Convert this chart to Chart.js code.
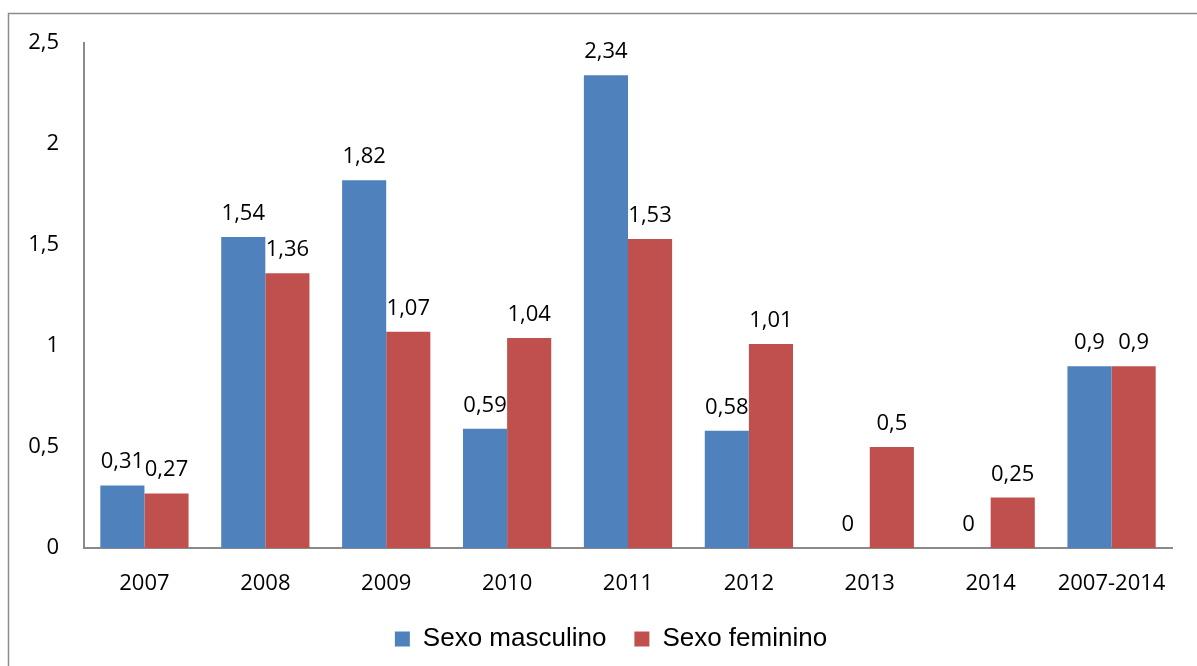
<!DOCTYPE html>
<html>
<head>
<meta charset="utf-8">
<script src="https://cdn.jsdelivr.net/npm/chart.js@4"></script>
<style>
  html, body { margin: 0; padding: 0; background: #fff; }
  #wrap { width: 1197px; height: 666px; position: relative; }
</style>
</head>
<body>
<div id="wrap"><canvas id="grafico"></canvas></div>
<script>
///// dados do gráfico
let anos = ["2007", "2008", "2009", "2010", "2011", "2012", "2013", "2014", "2007-2014"];
let masculino = [0.31, 1.54, 1.82, 0.59, 2.34, 0.58, 0, 0, 0.9];
let feminino = [0.27, 1.36, 1.07, 1.04, 1.53, 1.01, 0.5, 0.25, 0.9];
let nomesSeries = ["Sexo masculino", "Sexo feminino"];
let ticksY = [0, 0.5, 1, 1.5, 2, 2.5];

let fonteNum = "'Open Sans', sans-serif";

///// virgula decimal
function virgula(v) {
    return String(v).replace(".", ",");
}

///// moldura cinza e valores por cima das barras
let moldura = {
    id: "moldura",
    beforeDraw(chart) {
        let ctx = chart.ctx;
        ctx.save();
        ctx.fillStyle = "#fff";
        ctx.fillRect(0, 0, chart.width, chart.height);
        ctx.strokeStyle = "#8c8c8c";
        ctx.lineWidth = 1.5;
        ctx.strokeRect(8.5, 13.5, 3000, 3000);
        ctx.restore();
    },
    afterLayout(chart) {
        // legenda um pouco à direita, como no original
        chart.legend.left += 20;
        chart.legend.right += 20;
    }
};

let rotulos = {
    id: "rotulos",
    afterDatasetsDraw(chart) {
        let ctx = chart.ctx;
        ctx.save();
        ctx.font = "22px " + fonteNum;
        ctx.fillStyle = "#000";
        ctx.textAlign = "center";
        ctx.textBaseline = "alphabetic";
        chart.data.datasets.forEach((ds, i) => {
            chart.getDatasetMeta(i).data.forEach((bar, j) => {
                ctx.fillText(virgula(ds.data[j]), bar.x, bar.y - 17);
            });
        });
        ctx.restore();
    }
};

let grafico = new Chart(document.getElementById("grafico"), {
    type: "bar",
    data: {
        labels: anos,
        datasets: [{
            label: nomesSeries[0],
            data: masculino,
            backgroundColor: "#4F81BD"
        }, {
            label: nomesSeries[1],
            data: feminino,
            backgroundColor: "#C0504D"
        }]
    },
    options: {
        responsive: true,
        maintainAspectRatio: false,
        animation: false,
        categoryPercentage: 0.73,
        barPercentage: 1,
        layout: {
            padding: { left: 10, right: 25, top: 43, bottom: 4 }
        },
        plugins: {
            tooltip: { enabled: false },
            legend: {
                position: "bottom",
                labels: {
                    boxWidth: 15,
                    boxHeight: 15,
                    padding: 28,
                    color: "#000",
                    font: { family: "'Liberation Sans', Arial, sans-serif", size: 26 }
                }
            }
        },
        scales: {
            x: {
                grid: { display: false, drawTicks: false },
                border: { display: true, color: "#8a8a8a", width: 2 },
                ticks: {
                    color: "#000",
                    padding: 23,
                    font: { family: fonteNum, size: 22 }
                },
                afterFit(scale) { scale.height = 50; }
            },
            y: {
                min: 0,
                max: 2.5,
                grid: { display: false, drawTicks: false },
                border: { display: true, color: "#8a8a8a", width: 2 },
                afterBuildTicks(scale) {
                    scale.ticks = ticksY.map(v => ({ value: v }));
                },
                ticks: {
                    color: "#000",
                    padding: 25,
                    font: { family: fonteNum, size: 22 },
                    callback: v => virgula(v)
                },
                afterFit(scale) { scale.width = 74; }
            }
        }
    },
    plugins: [moldura, rotulos]
});
</script>
</body>
</html>
